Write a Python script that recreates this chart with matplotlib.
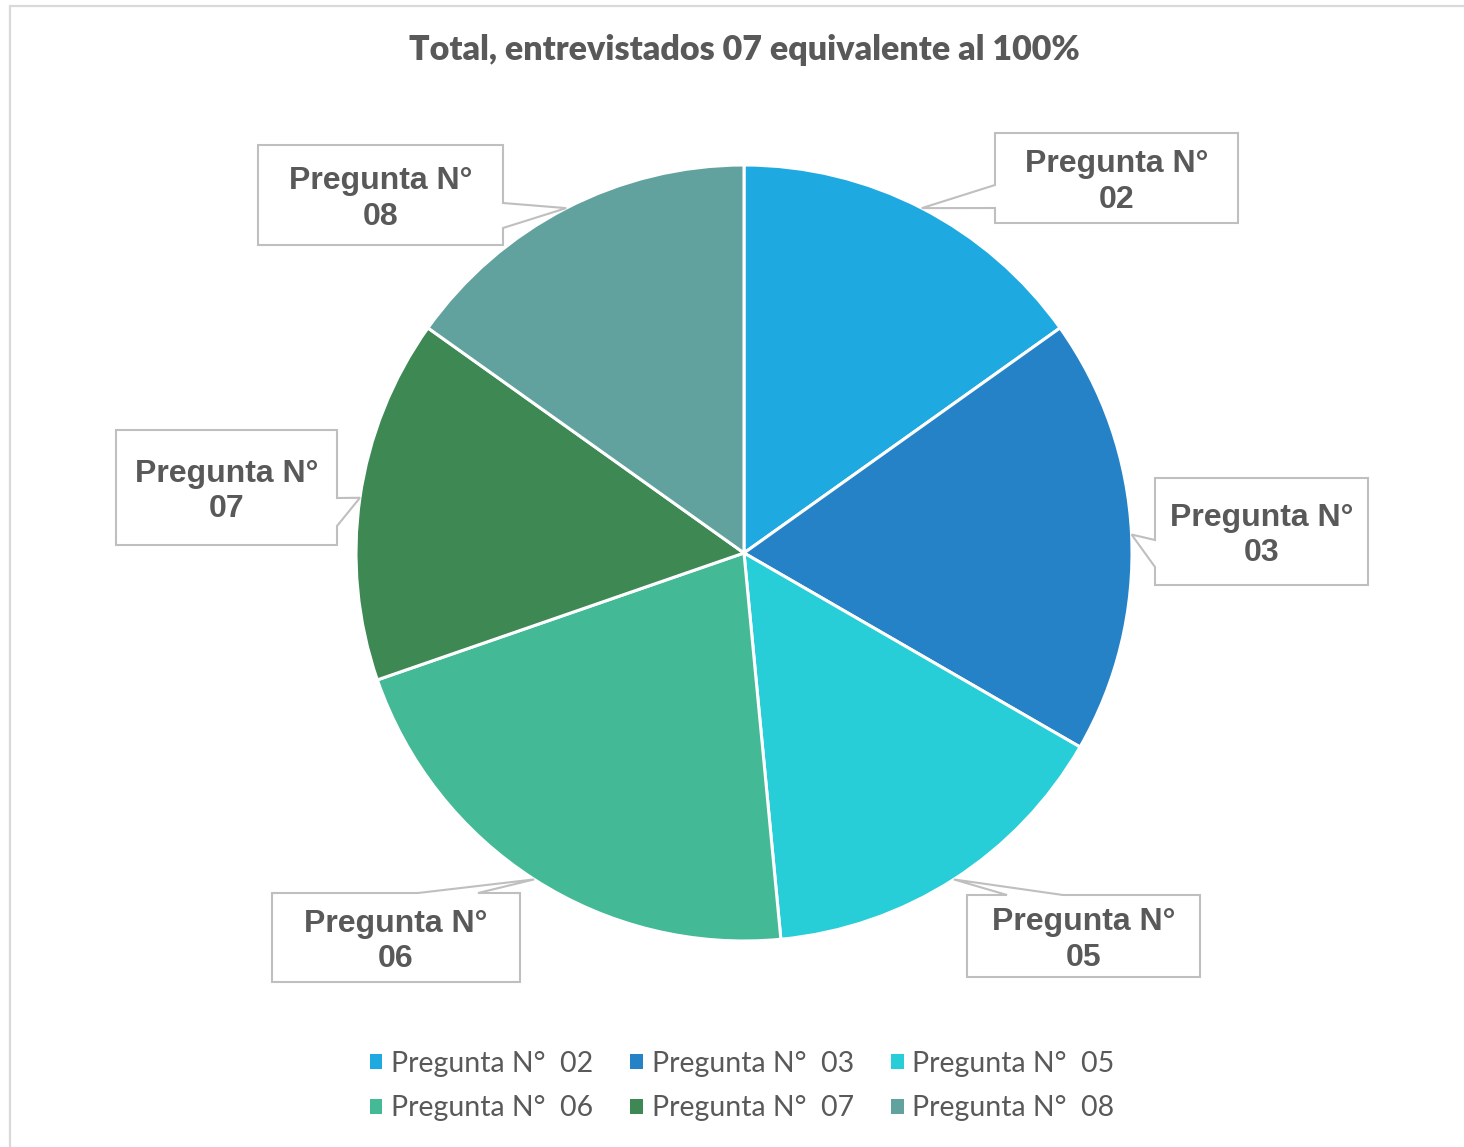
import numpy as np
import matplotlib.pyplot as plt
from matplotlib.patches import Polygon, Rectangle

# data
preguntas = ['02', '03', '05', '06', '07', '08']
valores = [5, 6, 5, 7, 5, 5]
colores = ['#1FA9E1', '#2682C7', '#27CDD7', '#43B996', '#3D8853', '#62A29E']
titulo = 'Total, entrevistados 07 equivalente al 100%'

W, H = 1464, 1147
gris = '#595959'

fig = plt.figure(figsize=(W / 100, H / 100), dpi=100)
ax = fig.add_axes([0, 0, 1, 1])

def py(y):
    # pixel row (from top) -> data y
    return H - y

cx, cy, R = 744, py(553), 388
wedges, _ = ax.pie(valores, colors=colores, startangle=90, counterclock=False,
                   center=(cx, cy), radius=R, frame=True,
                   wedgeprops=dict(edgecolor='white', linewidth=2.2))
ax.set_xlim(0, W)
ax.set_ylim(0, H)
ax.axis('off')

# chart border
ax.add_patch(Rectangle((10, -10), W, py(6) + 10, fill=False, ec='#D9D9D9', lw=1.6))

ax.text(744, py(50), titulo, ha='center', va='center', fontsize=24.5,
        fontweight='heavy', color=gris, family='Lato')

# callout boxes: (left, top, right, bottom), side of pointer, pointer base (two coords along edge)
cajas = {
    '02': ((995, 133, 1238, 223), 'left', (185, 208)),
    '03': ((1155, 478, 1368, 585), 'left', (540, 567)),
    '05': ((967, 895, 1200, 977), 'top', (1007, 1063)),
    '06': ((272, 893, 520, 982), 'top', (418, 478)),
    '07': ((116, 430, 337, 545), 'right', (498, 526)),
    '08': ((258, 145, 503, 245), 'right', (203, 228)),
}

for w, p in zip(wedges, preguntas):
    ang = np.deg2rad((w.theta1 + w.theta2) / 2)
    tx, ty = cx + R * np.cos(ang), cy + R * np.sin(ang)
    (l, t, r, b), side, (a1, a2) = cajas[p]
    L, T, Rr, B = l, py(t), r, py(b)
    if side == 'left':
        pts = [(L, T), (Rr, T), (Rr, B), (L, B), (L, py(a2)), (tx, ty), (L, py(a1))]
    elif side == 'right':
        pts = [(L, T), (Rr, T), (Rr, py(a1)), (tx, ty), (Rr, py(a2)), (Rr, B), (L, B)]
    else:  # top
        pts = [(L, T), (a1, T), (tx, ty), (a2, T), (Rr, T), (Rr, B), (L, B)]
    ax.add_patch(Polygon(pts, closed=True, fc='white', ec='#BFBFBF', lw=1.5, zorder=3))
    ax.text((L + Rr) / 2, (T + B) / 2 - 4, 'Pregunta N°\n' + p, ha='center', va='center',
            fontsize=23, fontweight='bold', color=gris, family='Liberation Sans',
            linespacing=1.23, zorder=4)

# legend, row-wise order
orden = [0, 3, 1, 4, 2, 5]
leg = ax.legend([wedges[i] for i in orden],
                ['Pregunta N°  ' + preguntas[i] for i in orden],
                ncol=3, loc='center', bbox_to_anchor=(742 / W, py(1086) / H),
                frameon=False, prop={'family': 'Lato', 'size': 20.5},
                handlelength=0.45, handleheight=0.45, handletextpad=0.3,
                columnspacing=1.3, labelspacing=0.66, labelcolor=gris)
for h in leg.legend_handles:
    h.set_edgecolor('none')

fig.savefig('out.png', dpi=100)
